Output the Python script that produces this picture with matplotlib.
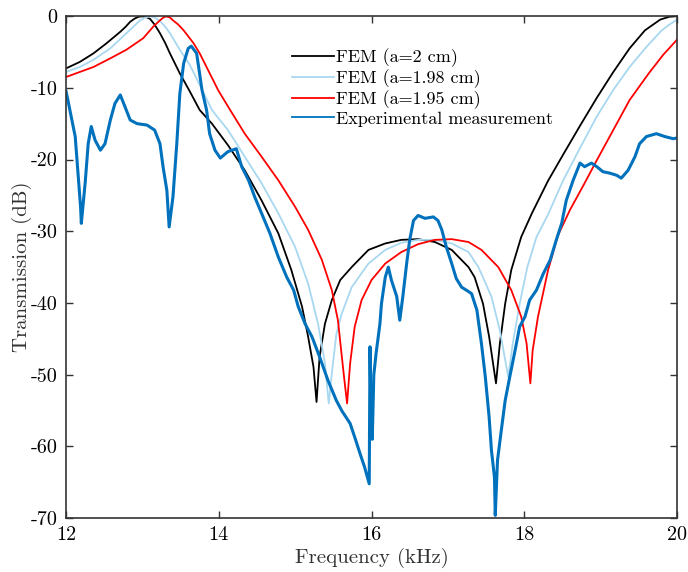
import numpy as np
import matplotlib.pyplot as plt

plt.rcParams['font.family'] = 'serif'
plt.rcParams['font.serif'] = ['cmr10']
plt.rcParams['mathtext.fontset'] = 'cm'
plt.rcParams['axes.unicode_minus'] = False
plt.rcParams['axes.formatter.use_mathtext'] = False

# FEM, a = 2 cm
f_a200 = [12.0, 12.18, 12.36, 12.53, 12.71, 12.78, 12.84, 12.9, 12.95, 12.99, 13.04, 13.1,
          13.16, 13.23, 13.3, 13.36, 13.49, 13.62,
          13.75, 13.91, 14.12, 14.34, 14.56, 14.78, 14.95, 15.09, 15.17, 15.24, 15.28,
          15.32, 15.39, 15.48, 15.59, 15.74, 15.96, 16.18, 16.39, 16.61, 16.83, 17.05,
          17.27, 17.35, 17.46, 17.54, 17.63, 17.68, 17.75, 17.83, 17.96, 18.1, 18.31,
          18.51, 18.73, 18.95, 19.16, 19.38, 19.58, 19.78, 19.9, 20.0]
t_a200 = [-7.3, -6.4, -5.2, -3.8, -2.2, -1.5, -0.8, -0.35, -0.1, -0.05, -0.1, -0.4,
          -1.2, -2.4, -3.8, -5.2, -8.0, -10.5,
          -13.1, -15.0, -18.0, -21.5, -25.7, -30.3, -35.4, -40.5, -44.7, -48.9, -53.8,
          -47.5, -42.9, -39.6, -36.8, -35.0, -32.6, -31.7, -31.2, -31.1, -31.5, -32.6,
          -35.0, -36.4, -40.1, -44.7, -51.2, -45.7, -40.1, -35.4, -30.8, -27.5, -23.0,
          -19.3, -15.3, -11.4, -7.9, -4.5, -2.0, -0.5, -0.1, 0.0]

# FEM, a = 1.98 cm
f_a198 = [12.0, 12.18, 12.36, 12.58, 12.79, 12.88, 12.97, 13.04, 13.1, 13.16, 13.23, 13.3,
          13.36, 13.49, 13.62, 13.75,
          13.91, 14.12, 14.34, 14.56, 14.78, 15.0, 15.17, 15.3, 15.39, 15.44, 15.48,
          15.54, 15.61, 15.74, 15.96, 16.18, 16.39, 16.61, 16.83, 17.05, 17.27, 17.4,
          17.57, 17.68, 17.79, 17.85, 17.94, 18.04, 18.16, 18.31, 18.51, 18.73, 18.95,
          19.16, 19.38, 19.6, 19.8, 19.9, 20.0]
t_a198 = [-7.8, -7.1, -6.1, -4.5, -2.4, -1.5, -0.6, -0.2, -0.05, -0.2, -0.7, -1.5,
          -2.4, -4.7, -6.8, -9.6,
          -13.1, -15.9, -19.6, -23.3, -27.5, -32.2, -37.3, -42.9, -48.4, -54.0, -49.8,
          -44.3, -41.5, -37.8, -34.5, -32.6, -31.6, -31.2, -31.2, -31.7, -32.9, -35.0,
          -39.1, -43.8, -50.3, -45.6, -40.1, -35.0, -30.8, -27.7, -22.9, -18.4, -14.0,
          -10.4, -7.1, -4.3, -2.0, -1.2, -0.5]

# FEM, a = 1.95 cm
f_a195 = [12.0, 12.18, 12.36, 12.58, 12.79, 13.01, 13.14, 13.23, 13.27, 13.31, 13.36, 13.4,
          13.47, 13.54, 13.67,
          13.75, 13.99, 14.12, 14.34, 14.56, 14.78, 15.0, 15.17, 15.35, 15.48, 15.56,
          15.64, 15.68, 15.72, 15.78, 15.87, 16.0, 16.18, 16.39, 16.61, 16.83, 17.05,
          17.27, 17.44, 17.66, 17.83, 17.96, 18.03, 18.08, 18.11, 18.18, 18.31, 18.44,
          18.6, 18.78, 18.95, 19.16, 19.38, 19.63, 19.82, 20.0]
t_a195 = [-8.5, -7.8, -7.1, -5.9, -4.7, -3.1, -1.5, -0.6, -0.25, -0.05, -0.2, -0.6,
          -1.2, -2.0, -3.8,
          -5.2, -10.3, -12.6, -16.4, -19.6, -22.9, -26.6, -29.8, -34.0, -38.2, -42.4,
          -50.3, -54.0, -48.4, -43.3, -39.6, -36.8, -34.5, -32.9, -31.8, -31.2, -31.1,
          -31.5, -32.6, -35.0, -38.2, -41.9, -45.6, -51.2, -46.6, -41.9, -35.5, -30.6,
          -27.0, -23.5, -20.1, -16.0, -11.7, -8.0, -5.4, -3.3]

# Experimental measurement
f_exp = [12.0, 12.02, 12.05, 12.12, 12.16, 12.19, 12.2, 12.25, 12.29, 12.33, 12.38, 12.45,
         12.51, 12.58, 12.64, 12.71, 12.77, 12.84, 12.93, 13.06, 13.16, 13.23, 13.27,
         13.32, 13.35, 13.4, 13.45, 13.49, 13.54, 13.6, 13.64, 13.71, 13.78, 13.84,
         13.88, 13.95, 14.02, 14.12, 14.23, 14.3, 14.39, 14.47, 14.58, 14.67, 14.78,
         14.89, 14.98, 15.04, 15.13, 15.22, 15.32, 15.43, 15.54, 15.61, 15.72, 15.78,
         15.85, 15.91, 15.97, 15.98, 15.995, 16.01, 16.03, 16.06, 16.11, 16.13, 16.18,
         16.22, 16.26, 16.33, 16.37, 16.41, 16.46, 16.5, 16.55, 16.61, 16.7, 16.81,
         16.87, 16.92, 16.98, 17.05, 17.11, 17.18, 17.27, 17.31, 17.38, 17.44, 17.49,
         17.54, 17.57, 17.61, 17.62, 17.65, 17.7, 17.75, 17.81, 17.88, 17.94, 18.01,
         18.07, 18.16, 18.25, 18.34, 18.42, 18.49, 18.55, 18.64, 18.73, 18.79, 18.88,
         18.95, 19.03, 19.12, 19.21, 19.27, 19.36, 19.45, 19.51, 19.6, 19.73, 19.84,
         19.95, 20.0]
t_exp = [-10.5, -11.5, -13.1, -16.8, -22.4, -26.6, -28.9, -23.3, -17.8, -15.4, -17.3, -18.7,
         -17.8, -14.5, -12.2, -11.0, -12.6, -14.5, -15.0, -15.2, -15.9, -17.8, -21.0,
         -24.3, -29.4, -25.2, -17.8, -10.8, -6.6, -4.5, -4.2, -5.2, -10.3, -13.1,
         -16.4, -18.7, -19.8, -18.9, -18.5, -21.0, -22.9, -25.2, -28.0, -30.3, -33.6,
         -36.4, -38.2, -40.5, -42.9, -44.7, -47.5, -50.8, -53.6, -55.0, -56.8, -58.7,
         -61.0, -62.9, -65.2, -46.1, -57.0, -59.0, -50.0, -47.0, -42.9, -40.1, -36.4,
         -35.0, -36.8, -39.1, -42.4, -39.1, -34.5, -31.2, -28.5, -27.8, -28.2, -28.0,
         -28.5, -29.8, -32.2, -34.5, -36.6, -37.8, -38.4, -38.7, -41.0, -45.7, -50.3,
         -55.9, -60.5, -64.3, -69.6, -61.9, -57.7, -53.6, -50.3, -46.6, -43.3, -41.9,
         -39.6, -38.2, -35.9, -34.0, -31.2, -28.9, -25.7, -22.9, -20.5, -21.0, -20.5,
         -21.0, -21.7, -21.9, -22.2, -22.6, -21.5, -19.6, -17.8, -16.8, -16.4, -16.8,
         -17.1, -17.0]

fig = plt.figure(figsize=(6.88, 5.72), dpi=100)
ax = fig.add_axes([0.096, 0.094, 0.888, 0.878])

ax.plot(f_a200, t_a200, color='black', lw=1.3, label='FEM (a=2 cm)')
ax.plot(f_a198, t_a198, color='#a8d8f0', lw=1.3, label='FEM (a=1.98 cm)')
ax.plot(f_a195, t_a195, color='#ff0000', lw=1.3, label='FEM (a=1.95 cm)')
ax.plot(f_exp, t_exp, color='#0072BD', lw=2.2, label='Experimental measurement')

ax.set_xlim(12, 20)
ax.set_ylim(-70, 0)
ax.set_xticks([12, 14, 16, 18, 20])
ax.set_yticks([0, -10, -20, -30, -40, -50, -60, -70])
ax.tick_params(direction='in', length=5, width=1, color='#333333', labelsize=14.5,
               top=True, right=True, pad=6)
for s in ax.spines.values():
    s.set_color('#333333')
    s.set_linewidth(1.2)

ax.set_xlabel('Frequency (kHz)', fontsize=15, color='#333333')
ax.set_ylabel('Transmission (dB)', fontsize=15, color='#333333')
ax.xaxis.set_label_coords(0.5, -0.06)
ax.yaxis.set_label_coords(-0.056, 0.5)

leg = ax.legend(loc='upper left', bbox_to_anchor=(0.358, 0.95), frameon=False, fontsize=13,
                handlelength=2.3, handletextpad=0.15, labelspacing=0.12, borderaxespad=0)
for h in leg.get_lines():
    h.set_linewidth(1.3)

fig.savefig('out.png', dpi=100)
